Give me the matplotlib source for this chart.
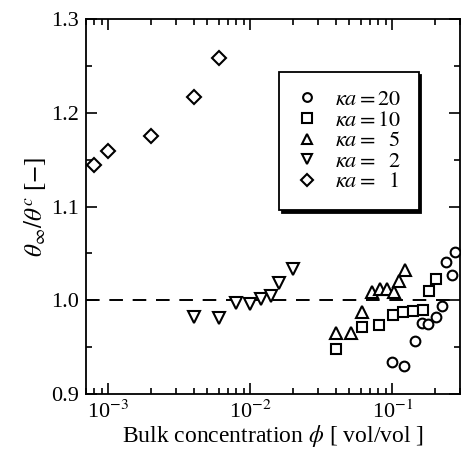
import matplotlib
matplotlib.use("Agg")
import matplotlib.pyplot as plt
from matplotlib.lines import Line2D
from matplotlib.ticker import LogLocator, FixedLocator, MultipleLocator, NullFormatter

plt.rcParams['font.family'] = ['Liberation Serif', 'DejaVu Serif']
plt.rcParams['mathtext.fontset'] = 'stix'

# kappa*a = 20
phi_20 = [0.0995, 0.122, 0.144, 0.162, 0.180, 0.204, 0.224, 0.240, 0.263, 0.278]
ratio_20 = [0.934, 0.930, 0.957, 0.976, 0.975, 0.982, 0.994, 1.041, 1.027, 1.051]
# kappa*a = 10
phi_10 = [0.040, 0.061, 0.081, 0.101, 0.120, 0.140, 0.164, 0.183, 0.204]
ratio_10 = [0.948, 0.971, 0.974, 0.984, 0.988, 0.989, 0.990, 1.010, 1.023]
# kappa*a = 5
phi_5 = [0.040, 0.051, 0.061, 0.072, 0.082, 0.092, 0.103, 0.112, 0.124]
ratio_5 = [0.965, 0.965, 0.988, 1.009, 1.012, 1.012, 1.009, 1.021, 1.032]
# kappa*a = 2
phi_2 = [0.004, 0.006, 0.008, 0.010, 0.012, 0.014, 0.016, 0.020]
ratio_2 = [0.982, 0.981, 0.997, 0.996, 1.001, 1.005, 1.018, 1.033]
# kappa*a = 1
phi_1 = [0.0008, 0.001, 0.002, 0.004, 0.006]
ratio_1 = [1.144, 1.159, 1.175, 1.217, 1.258]

series = [
    (phi_20, ratio_20, 'o', 7.0, r'$\kappa a = 20$'),
    (phi_10, ratio_10, 's', 7.5, r'$\kappa a = 10$'),
    (phi_5, ratio_5, '^', 8.5, r'$\kappa a =\ \ 5$'),
    (phi_2, ratio_2, 'v', 8.5, r'$\kappa a =\ \ 2$'),
    (phi_1, ratio_1, 'D', 7.0, r'$\kappa a =\ \ 1$'),
]

x_ticks = [1e-3, 1e-2, 1e-1]
x_ticklabels = [r'10$^{-3}$', r'10$^{-2}$', r'10$^{-1}$']

fig = plt.figure(figsize=(4.61, 4.51), dpi=100)
ax = fig.add_axes([86 / 461, (451 - 394) / 451, 374 / 461, 375 / 451])

ax.axhline(1.0, color='black', lw=1.4, ls=(0, (7, 5)), zorder=1)

handles = []
for x, y, m, ms, lab in series:
    ax.plot(x, y, ls='none', marker=m, ms=ms, mfc='white', mec='black',
            mew=1.5, zorder=3)
    handles.append(Line2D([], [], ls='none', marker=m, ms=ms * 0.9, mfc='white',
                          mec='black', mew=1.5, label=lab))

ax.set_xscale('log')
ax.set_xlim(7e-4, 0.3)
ax.set_ylim(0.9, 1.3)
ax.xaxis.set_major_locator(FixedLocator(x_ticks))
ax.set_xticklabels(x_ticklabels)
ax.xaxis.set_minor_locator(LogLocator(base=10, subs=range(2, 10)))
ax.xaxis.set_minor_formatter(NullFormatter())
ax.yaxis.set_minor_locator(MultipleLocator(0.05))
ax.set_yticks([0.9, 1.0, 1.1, 1.2, 1.3])
ax.set_yticklabels(['0.9', '1.0', '1.1', '1.2', '1.3'])

ax.tick_params(which='both', direction='in', top=True, right=True,
               labelsize=16, width=1.2, color='black')
ax.tick_params(which='major', length=8, pad=5)
ax.tick_params(which='minor', length=4)
for s in ax.spines.values():
    s.set_linewidth(1.3)

ax.set_xlabel(r'Bulk concentration $\phi$ [ vol/vol ]', fontsize=17, labelpad=0)
ax.set_ylabel(r'$\theta_{\infty}/\theta^{c}$ [$-$]', fontsize=18, labelpad=2)

leg = ax.legend(handles=handles, loc='upper left',
                bbox_to_anchor=(0.516, 0.859), frameon=True, fancybox=False,
                shadow={'color': 'black', 'alpha': 1.0},
                edgecolor='black', fontsize=16,
                handletextpad=0.8, labelspacing=0.0, borderpad=0.8,
                handlelength=0.9, borderaxespad=0)
leg.get_frame().set_linewidth(1.3)

fig.savefig('out.png', dpi=100)
